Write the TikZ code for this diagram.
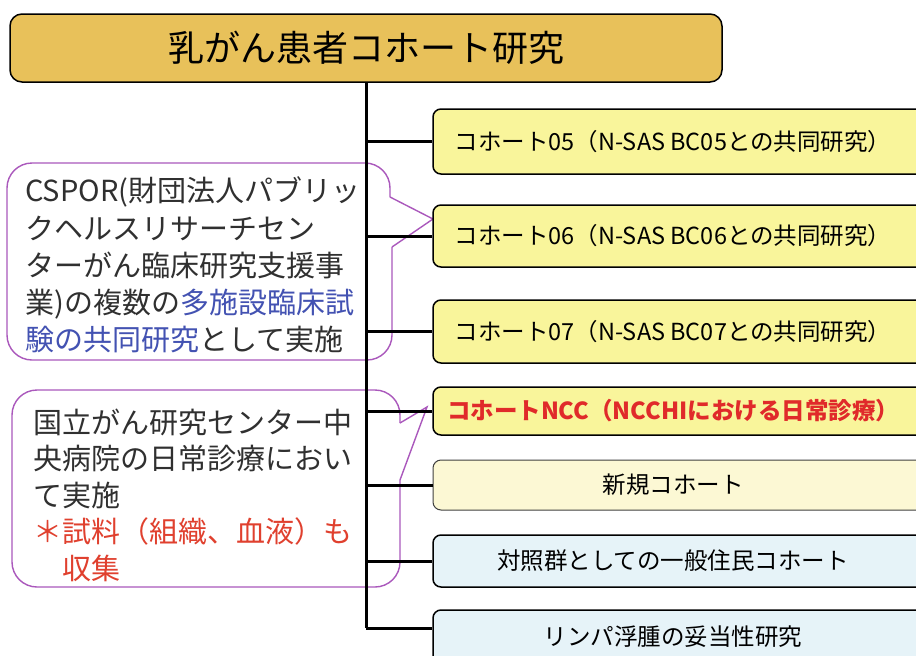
\documentclass[tikz,border=0pt]{standalone}
\usepackage{fontspec}
\setmainfont{Noto Sans CJK JP}
\definecolor{gold}{HTML}{E8C15A}
\definecolor{yel}{HTML}{F9F59B}
\definecolor{yelpale}{HTML}{FCF8D4}
\definecolor{bluepale}{HTML}{E6F3F8}
\definecolor{purp}{HTML}{AA58BC}
\definecolor{txtblue}{HTML}{4352B2}
\definecolor{txtred}{HTML}{E0402E}
\definecolor{txtdark}{HTML}{303030}
\definecolor{nccred}{HTML}{E02A2A}
\begin{document}
\begin{tikzpicture}[x=1pt,y=-1pt,
  topbox/.style={draw=black, line width=1.5pt, rounded corners=12pt, fill=gold,
    minimum width=712pt, minimum height=68pt, inner sep=0pt,
    font=\fontsize{36}{40}\selectfont},
  cbox/.style={draw=black, line width=1.5pt, rounded corners=8pt,
    minimum width=492pt, inner sep=0pt, font=\fontsize{23.5}{26}\selectfont},
  trunkline/.style={line width=3pt, black},
  callout/.style={draw=purp, line width=1.4pt},
  ctext/.style={anchor=base west, inner sep=0pt, text=txtdark,
    font=\fontsize{29}{36}\selectfont}
]
\clip (0,0) rectangle (916,656);
\fill[white] (0,0) rectangle (916,656);

% callout outlines
\draw[callout, rounded corners=25pt] (392,247) -- (392,360) -- (7,360) -- (7,163) -- (390,163) -- (390,197);
\draw[callout] (390,197) -- (433,219) -- (392,247);
\draw[callout, rounded corners=25pt] (400,480) -- (400,587) -- (12,587) -- (12,390) -- (400,390) -- (400,423);
\draw[callout] (400,423) -- (427,407) -- (400,480);

% top box
\node[topbox] (top) at (366,48) {乳がん患者コホート研究};

% cohort boxes
\node[cbox, fill=yel, minimum height=65pt] (b1) at (679,141.5) {コホート05（N-SAS BC05との共同研究）\hspace*{12pt}};
\node[cbox, fill=yel, minimum height=62pt] (b2) at (679,236) {コホート06（N-SAS BC06との共同研究）\hspace*{12pt}};
\node[cbox, fill=yel, minimum height=63pt] (b3) at (679,331.5) {コホート07（N-SAS BC07との共同研究）\hspace*{12pt}};
\node[cbox, fill=yel, minimum height=48pt, text=nccred, font=\fontsize{23.5}{26}\selectfont\bfseries] (b4) at (679,411) {コホートNCC（NCCHIにおける日常診療）\hspace*{12pt}};
\node[cbox, fill=yelpale, draw=black!75, line width=1pt, minimum height=50pt] (b5) at (679,485) {新規コホート\hspace*{12pt}};
\node[cbox, fill=bluepale, minimum height=52pt] (b6) at (679,561) {対照群としての一般住民コホート\hspace*{12pt}};
\node[cbox, fill=bluepale, minimum height=54pt] (b7) at (679,637) {リンパ浮腫の妥当性研究\hspace*{12pt}};

% trunk and branches
\coordinate (b7in) at ([yshift=9pt]b7.west);
\coordinate (tend) at (top.south |- b7in);
\draw[trunkline] (top.south) -- (tend);
\foreach \b in {b1,b2,b3,b4,b5,b6}{
  \draw[trunkline] (top.south |- \b.west) -- (\b.west);
}
\draw[trunkline] (tend) -- (b7in);

% callout 1 text
\node[ctext] (c1a) at (25,201) {CSPOR(財団法人パブリッ};
\node[ctext] (c1b) at (25,239) {クヘルスリサーチセン};
\node[ctext] (c1c) at (25,276) {ターがん臨床研究支援事};
\node[ctext] (c1d) at (25,313) {業)の複数の\textcolor{txtblue}{多施設臨床試}};
\node[ctext] (c1e) at (25,350) {\textcolor{txtblue}{験の共同研究}として実施};

% callout 2 text
\node[ctext] (c2a) at (33,433) {国立がん研究センター中};
\node[ctext] (c2b) at (33,469.5) {央病院の日常診療におい};
\node[ctext] (c2c) at (33,506) {て実施};
\node[ctext, text=txtred] (c2d) at (33,542.5) {＊試料（組織、血液）も};
\node[ctext, text=txtred] (c2e) at (62,579) {収集};
\end{tikzpicture}
\end{document}
